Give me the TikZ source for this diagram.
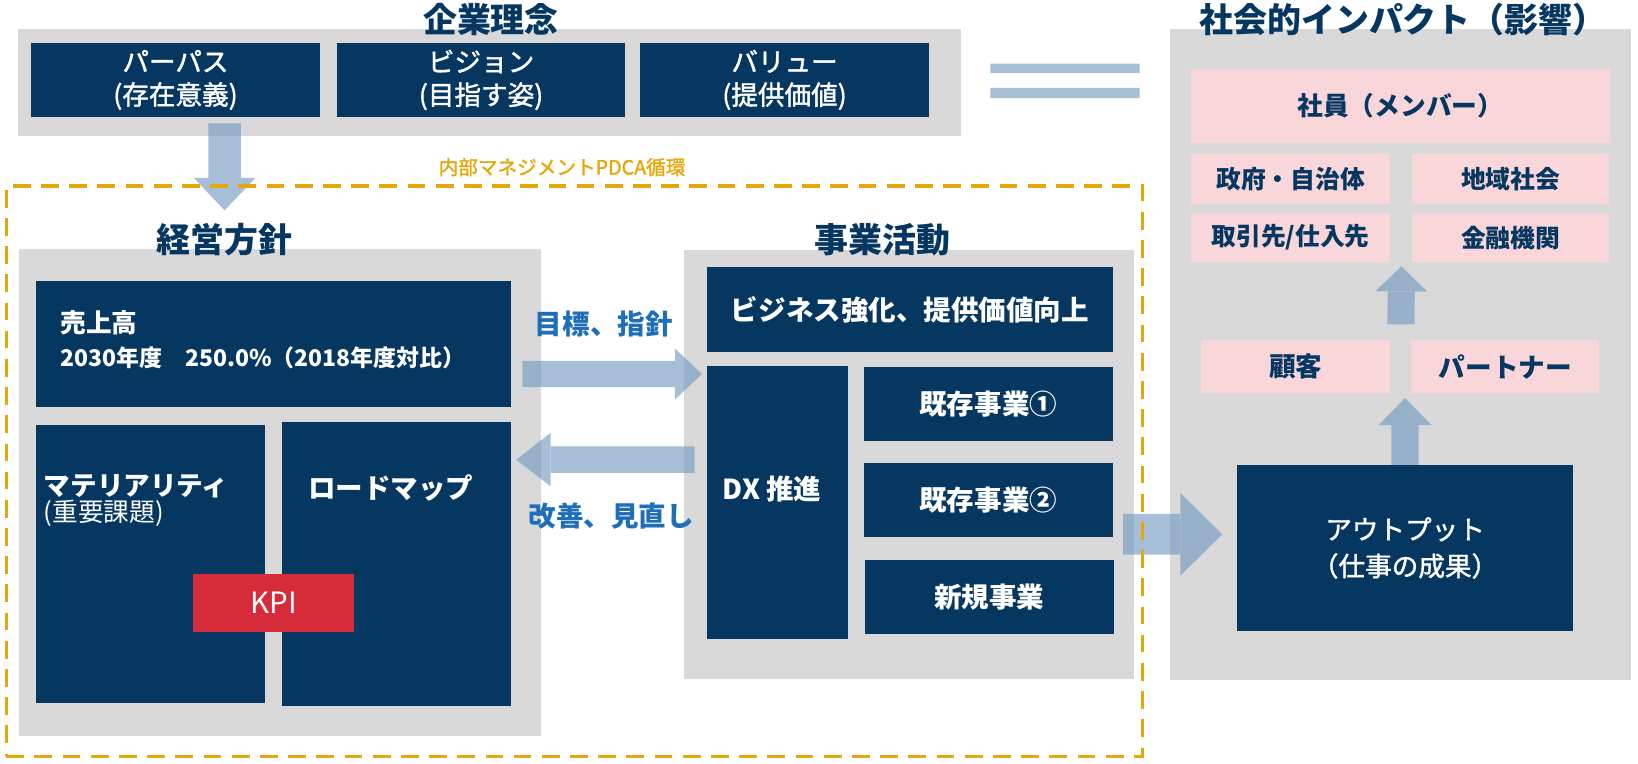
\documentclass[tikz,border=0pt]{standalone}
\usepackage{fontspec}
\setmainfont{Noto Sans CJK JP}
\newfontfamily\midweight{Noto Sans CJK JP}[FakeBold=1.5]
\usetikzlibrary{arrows.meta,calc,positioning}

\definecolor{navy}{RGB}{5,55,96}
\definecolor{panelgray}{RGB}{217,217,217}
\definecolor{blush}{RGB}{248,214,217}
\definecolor{kpired}{RGB}{214,43,56}
\definecolor{gold}{RGB}{229,168,12}
\definecolor{linkblue}{RGB}{30,110,184}
\definecolor{flowblue}{RGB}{118,156,194}

\newlength\pxu
\setlength\pxu{0.02cm}

\begin{document}
\begin{tikzpicture}[x=0.02cm, y=-0.02cm,
    every node/.style={inner sep=0pt, outer sep=0pt, align=center},
    sz/.style 2 args={minimum width=#1\pxu, minimum height=#2\pxu},
    panel/.style={fill=panelgray},
    navybox/.style={fill=navy, text=white},
    pinkbox/.style={fill=blush, text=navy},
    heading/.style={text=navy, font=\fontsize{18.5}{22}\selectfont\bfseries},
    idea/.style={navybox, sz={276}{71}, font=\fontsize{14.5}{18}\selectfont\midweight},
    unit/.style={navybox, sz={238}{71}, font=\fontsize{15}{18}\selectfont\bfseries},
    group/.style={pinkbox, font=\fontsize{13.5}{16}\selectfont\bfseries},
    loop label/.style={text=linkblue, font=\fontsize{15}{18}\selectfont\bfseries},
    flow/.style n args={3}{draw=flowblue, line width=#1pt,
        -{Triangle[width=#2pt, length=#3pt, line width=0pt]}}]
    \useasboundingbox (0,0) rectangle (1568,731);

    % grey panels
    \node[panel, sz={902}{102}] (philpanel) at (468.5,79) {};
    \node[panel, sz={500}{467}] (policypanel) at (268,471.5) {};
    \node[panel, sz={431}{411}] (bizpanel) at (870.5,444.5) {};
    \node[panel, sz={441}{623}] (impactpanel) at (1340.5,339.5) {};

    % 企業理念
    \node[idea] (purpose) at (168,76.5) {パーパス\\(存在意義)};
    \node[idea] (vision) at (460.5,76.5) {ビジョン\\(目指す姿)};
    \node[idea] (values) at (751,76.5) {バリュー\\(提供価値)};

    % 経営方針
    \node[navybox, sz={455}{121}] (sales) at (261.5,329.5) {};
    \node[anchor=west, text=white, align=left] (salestext) at (58,325)
        {{\fontsize{14}{17}\selectfont\bfseries 売上高}\\[5pt]
         {\fontsize{12.5}{15}\selectfont\bfseries 2030年度　250.0\%（2018年度対比）}};
    \node[navybox, sz={220}{266}] (materiality) at (144,540) {};
    \node[anchor=west, text=white, align=left] (materialitytext) at (42,479)
        {{\fontsize{14.5}{18}\selectfont\bfseries マテリアリティ}\\
         {\fontsize{14}{18}\selectfont (重要課題)}};
    \node[navybox, sz={219}{272}] (roadmap) at (379.5,540) {};
    \node[text=white, font=\fontsize{15}{18}\selectfont\bfseries] (roadmaptext) at (374,467) {ロードマップ};
    \node[fill=kpired, text=white, sz={154}{56}, font=\fontsize{16}{19}\selectfont] (kpi) at (262,577) {KPI};

    % 事業活動
    \node[unit, sz={388}{81}] (strength) at (871,296.5) {ビジネス強化、提供価値向上};
    \node[navybox, sz={135}{262}] (dx) at (744.5,481) {};
    \node[anchor=west, text=white, font=\fontsize{15}{18}\selectfont\bfseries] (dxtext) at (692,468) {DX 推進};
    \node[unit] (existone) at (946,386.5) {既存事業①};
    \node[unit] (existtwo) at (946,478.5) {既存事業②};
    \node[unit] (newbiz) at (947,571.5) {新規事業};

    % 社会的インパクト
    \node[pinkbox, sz={401}{71}, font=\fontsize{14}{17}\selectfont\bfseries] (members) at (1340.5,101.5) {社員（メンバー）};
    \node[group, sz={191}{48}] (gov) at (1235.5,171) {政府・自治体};
    \node[group, sz={188}{48}] (community) at (1446,171) {地域社会};
    \node[group, sz={191}{47}] (suppliers) at (1235.5,227.5) {取引先/仕入先};
    \node[group, sz={188}{47}] (finance) at (1446,227.5) {金融機関};
    \node[group, sz={181}{51}, font=\fontsize{14.5}{17}\selectfont\bfseries] (customer) at (1240.5,351) {顧客};
    \node[group, sz={180}{51}, font=\fontsize{14.5}{17}\selectfont\bfseries] (partner) at (1441,351) {パートナー};
    \node[navybox, sz={322}{159}, font=\fontsize{14.5}{20}\selectfont\midweight] (output) at (1345,524.5) {アウトプット\\（仕事の成果）};

    % headings
    \node[heading] (philtitle) at (470,19) {企業理念};
    \node[heading] (impacttitle) at (1343,19) {社会的インパクト（影響）};
    \node[heading] (policytitle) at (215,229) {経営方針};
    \node[heading] (biztitle) at (845,229) {事業活動};

    % block arrows (sizes in pt, 1 px = 0.569 pt)
    \begin{scope}[transparency group, opacity=0.65]
        \draw[flow={17.64}{33.57}{17.64}, shorten <=3.41pt, shorten >=6.83pt] (purpose.south -| policytitle) -- (policytitle.north);
        \draw[flow={14.23}{27.88}{14.80}] ($(sales.east)+(11,28.5)$) -- ($(dx.west)+(-5,-123)$);
        \draw[flow={14.51}{29.02}{18.78}] ($(dx.west)+(-12,-41)$) -- ($(sales.east)+(5,110.5)$);
        \draw[flow={22.19}{44.96}{22.76}] ($(bizpanel.east)+(-11,67)$) -- ($(output.west)+(-14,-13)$);
        \draw[flow={14.80}{28.45}{13.66}, shorten <=8.54pt, shorten >=2.28pt]
            ($(customer.north east)!0.5!(partner.north west)$) -- ($(suppliers.south east)!0.5!(finance.south west)$);
        \draw[flow={14.80}{29.02}{14.80}, shorten >=2.56pt] (output.north) -- (output.north |- customer.south);
        \node[fill=flowblue, sz={143}{9}] (eqtop) at (1019.5,65.5) {};
        \node[fill=flowblue, sz={143}{10}] (eqbottom) at (1019.5,89) {};
    \end{scope}

    % PDCA frame
    \node[draw=gold, line width=1.71pt, dash pattern=on 9.67pt off 5.69pt, sz={1088}{546}] (pdca) at (550,451) {};
    \node[text=gold, font=\fontsize{10.7}{13}\selectfont\midweight] (pdcalabel) at (538,160) {内部マネジメントPDCA循環};
    \node[loop label] (goallabel) at (578,310) {目標、指針};
    \node[loop label] (reviewlabel) at (585,494) {改善、見直し};
\end{tikzpicture}
\end{document}
